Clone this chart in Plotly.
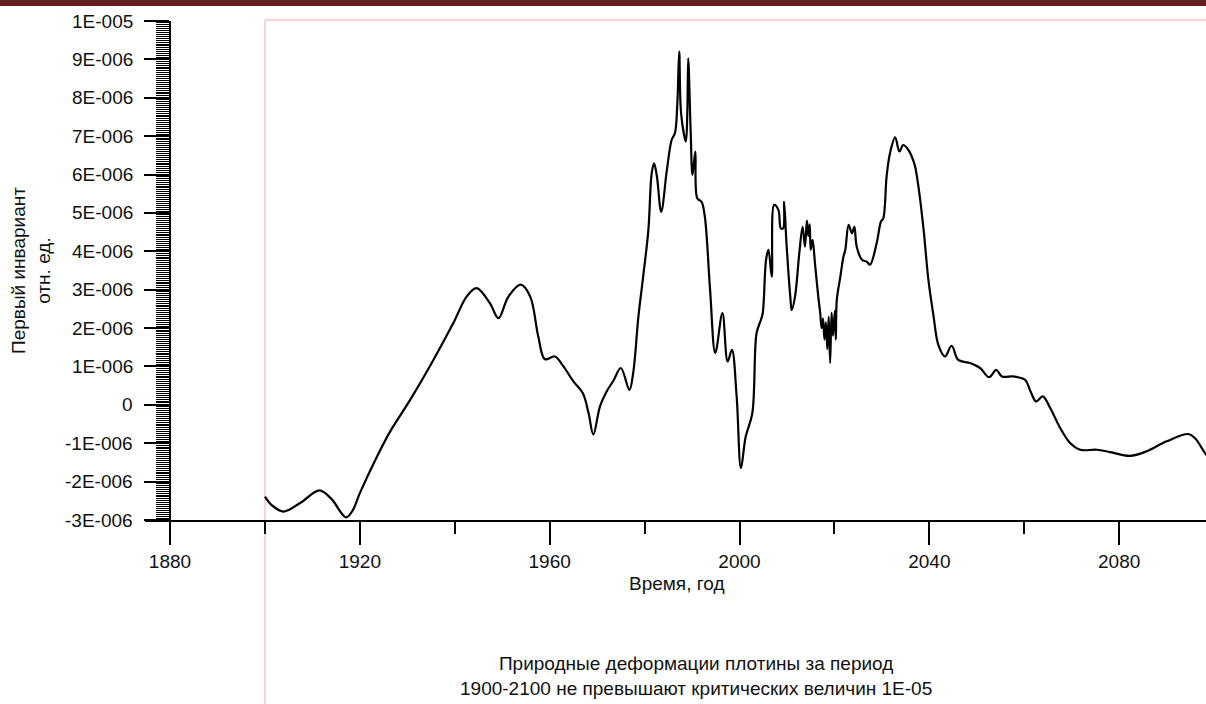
import plotly.graph_objects as go

# First invariant of natural dam deformation, relative units (x 1e-6)
years = [
    1900.0, 1901.5, 1903.9, 1907.5, 1911.5, 1914.0, 1917.1, 1918.5, 1920.0, 1923.6,
    1926.4, 1930.6, 1935.5, 1939.7, 1942.5, 1944.6, 1947.4, 1949.2, 1951.3, 1953.9,
    1955.9, 1957.6, 1959.0, 1961.1, 1962.9, 1965.0, 1967.0, 1968.2, 1969.2, 1970.6,
    1972.0, 1973.4, 1975.0, 1976.8, 1977.6, 1978.7, 1979.7, 1980.8, 1981.5, 1982.0,
    1982.6, 1983.5, 1984.7, 1985.7, 1986.4, 1986.9, 1987.3, 1987.7, 1988.7, 1989.0,
    1989.2, 1989.7, 1990.1, 1990.7, 1991.1, 1992.0, 1992.7, 1993.8, 1994.9, 1996.4,
    1997.5, 1998.4, 1999.4, 2000.3, 2001.3, 2002.7, 2003.6, 2004.5, 2004.9, 2005.6,
    2006.1, 2006.8, 2007.3, 2008.2, 2008.7, 2009.2, 2009.4, 2009.9, 2010.7, 2011.0,
    2011.7, 2012.6, 2013.3, 2013.8, 2014.2, 2014.5, 2014.8, 2015.0, 2015.4, 2015.9,
    2016.6, 2017.0, 2017.3, 2017.6, 2017.9, 2018.2, 2018.5, 2018.8, 2019.1, 2019.4,
    2019.7, 2020.1, 2020.3, 2020.5, 2021.2, 2021.9, 2022.3, 2023.0, 2023.7, 2024.2,
    2024.7, 2025.8, 2026.8, 2027.5, 2028.9, 2029.8, 2030.3, 2031.0, 2031.7, 2032.8,
    2033.7, 2034.5, 2035.6, 2036.3, 2037.0, 2037.7, 2038.8, 2039.8, 2040.9, 2041.9,
    2043.3, 2044.7, 2046.1, 2048.6, 2050.7, 2052.6, 2054.1, 2055.3, 2057.7, 2060.2,
    2061.2, 2062.5, 2063.9, 2065.5, 2067.6, 2069.7, 2071.8, 2075.3, 2078.1, 2082.3,
    2085.8, 2090.0, 2094.6, 2096.0, 2098.1, 2099.0,
]
invariant = [
    -2.39, -2.62, -2.78, -2.55, -2.23, -2.45, -2.93, -2.75, -2.30, -1.35,
    -0.69, 0.13, 1.17, 2.13, 2.82, 3.04, 2.65, 2.26, 2.82, 3.13,
    2.82, 1.78, 1.19, 1.26, 1.00, 0.61, 0.30, -0.22, -0.77, -0.04,
    0.35, 0.62, 0.96, 0.39, 0.83, 2.30, 3.34, 4.56, 6.03, 6.29,
    5.95, 5.03, 6.12, 6.90, 7.08, 7.85, 9.20, 7.59, 6.86, 7.59,
    9.03, 7.16, 5.99, 6.60, 5.38, 5.29, 4.90, 3.00, 1.35, 2.39,
    1.13, 1.43, 0.22, -1.65, -0.83, -0.22, 1.87, 2.21, 2.39, 3.78,
    4.04, 3.34, 5.21, 5.08, 4.60, 4.60, 5.29, 4.21, 2.82, 2.47,
    2.82, 3.95, 4.64, 4.12, 4.80, 4.40, 4.70, 4.04, 4.30, 3.69,
    2.82, 2.40, 2.00, 2.25, 1.70, 2.15, 1.45, 2.30, 1.09, 2.40,
    1.80, 2.45, 1.70, 2.73, 3.30, 3.86, 4.04, 4.69, 4.47, 4.64,
    4.12, 3.78, 3.73, 3.65, 4.21, 4.77, 4.86, 5.95, 6.55, 6.97,
    6.60, 6.77, 6.64, 6.47, 6.21, 5.69, 4.56, 3.26, 2.30, 1.56,
    1.26, 1.54, 1.17, 1.09, 0.96, 0.72, 0.91, 0.74, 0.74, 0.65,
    0.39, 0.09, 0.22, -0.09, -0.61, -1.00, -1.17, -1.17, -1.23, -1.33,
    -1.21, -0.95, -0.76, -0.87, -1.26, -1.40,
]

y_tick_vals = list(range(-3, 11))
y_tick_text = ["-3E-006", "-2E-006", "-1E-006", "0", "1E-006", "2E-006", "3E-006",
               "4E-006", "5E-006", "6E-006", "7E-006", "8E-006", "9E-006", "1E-005"]
x_tick_vals = [1880, 1920, 1960, 2000, 2040, 2080]

x_title = "Время, год"
y_title = "Первый инвариант<br>отн. ед."
note = "Природные деформации плотины за период<br>1900-2100 не превышают критических величин 1E-05"

FONT = "Liberation Sans, Arial, sans-serif"
FS = 19
W, H = 1206, 704
ML, MT, MB = 145, 21, 184
X_RANGE = [1874.73, 2098.3]
Y_RANGE = [-3, 10]
plot_w = W - ML
plot_h = H - MT - MB


def px_x(px):
    return (px - ML) / plot_w


def px_y(py):
    return (H - MB - py) / plot_h


def year_x(yr):
    return (yr - X_RANGE[0]) / (X_RANGE[1] - X_RANGE[0])


fig = go.Figure()
fig.add_trace(go.Scatter(
    x=years, y=invariant, mode="lines",
    line=dict(color="black", width=2.2, shape="spline", smoothing=1.0),
    showlegend=False, hoverinfo="skip",
))

axis_x_pos = year_x(1880)

# y tick labels placed a little away from the long ruler ticks
y_labels = [
    dict(text=t, xref="paper", yref="y", x=px_x(135), y=v,
         xanchor="right", yanchor="middle", showarrow=False,
         font=dict(size=FS))
    for v, t in zip(y_tick_vals, y_tick_text)
]

fig.update_layout(
    width=W, height=H,
    margin=dict(l=ML, r=0, t=MT, b=MB, pad=0),
    paper_bgcolor="white", plot_bgcolor="white",
    font=dict(family=FONT, size=FS, color="#111111"),
    xaxis=dict(
        range=X_RANGE, showgrid=False, zeroline=False,
        showline=True, linecolor="black", linewidth=1.5,
        ticks="outside", ticklen=23, tickwidth=1.5, tickcolor="black",
        tickvals=x_tick_vals, ticktext=[str(v) for v in x_tick_vals],
        tickfont=dict(size=FS), ticklabelstandoff=0,
        minor=dict(dtick=20, tick0=1880, ticklen=12, tickwidth=1.5,
                   tickcolor="black", ticks="outside"),
    ),
    yaxis=dict(
        range=Y_RANGE, showgrid=False, zeroline=False,
        anchor="free", position=axis_x_pos,
        showline=True, linecolor="black", linewidth=1.5,
        ticks="outside", ticklen=25, tickwidth=1.5, tickcolor="black",
        tickvals=y_tick_vals, showticklabels=False,
        minor=dict(dtick=0.05, tick0=0, ticklen=13, tickwidth=1,
                   tickcolor="black", ticks="outside"),
    ),
    shapes=[
        # dark header strip
        dict(type="rect", xref="paper", yref="paper",
             x0=px_x(0), x1=px_x(W), y0=px_y(6), y1=px_y(0),
             fillcolor="#622020", line=dict(width=0), layer="above"),
        # frame of the 1900-2100 period
        dict(type="line", xref="paper", yref="paper",
             x0=year_x(1900), x1=year_x(1900), y0=px_y(H + 2), y1=px_y(20),
             line=dict(color="#ffc4c4", width=1.5), layer="below"),
        dict(type="line", xref="paper", yref="paper",
             x0=year_x(1900), x1=px_x(W + 2), y0=px_y(20), y1=px_y(20),
             line=dict(color="#ffc4c4", width=1.5), layer="below"),
    ],
    annotations=y_labels + [
        dict(text=x_title, xref="paper", yref="paper", x=px_x(676), y=px_y(583),
             xanchor="center", yanchor="middle", showarrow=False,
             font=dict(size=FS)),
        dict(text=y_title, xref="paper", yref="paper", x=px_x(31), y=px_y(271),
             xanchor="center", yanchor="middle", showarrow=False, textangle=-90,
             font=dict(size=FS)),
        dict(text=note, xref="paper", yref="paper", x=px_x(696), y=px_y(676),
             xanchor="center", yanchor="middle", showarrow=False,
             font=dict(size=FS)),
    ],
)

fig.write_html("out.html")
